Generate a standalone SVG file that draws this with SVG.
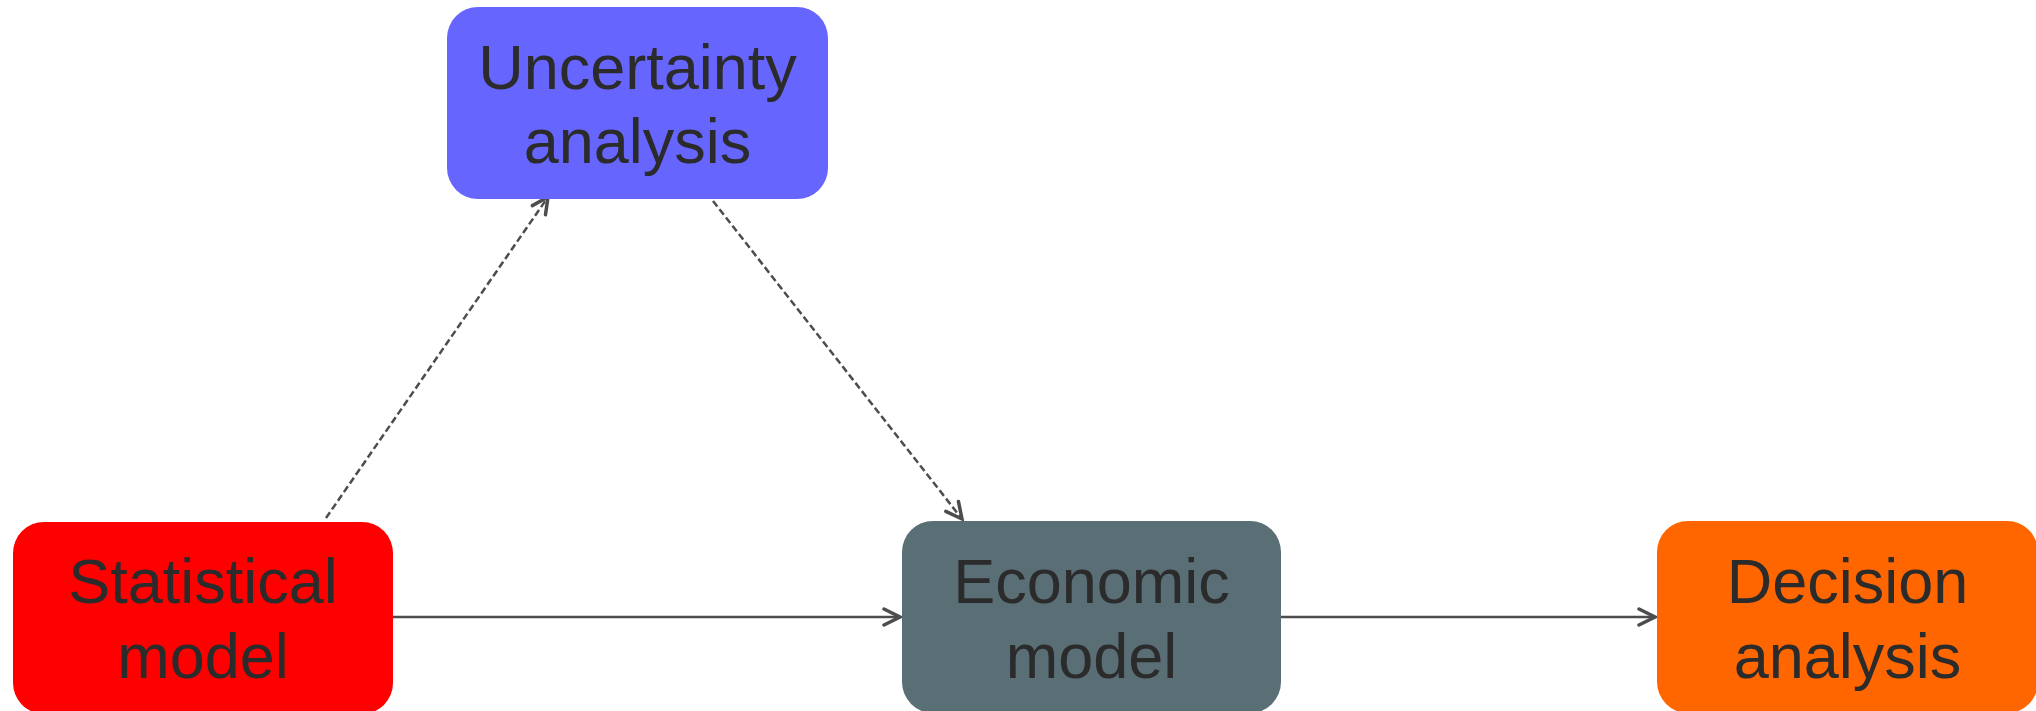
<svg xmlns="http://www.w3.org/2000/svg" width="2036" height="711" viewBox="0 0 2036 711">
<style>
.lbl{font-family:"Liberation Sans",Arial,sans-serif;font-size:63px;fill:#2b2b2b;text-anchor:middle}
.conn{stroke:#4d4d4d;stroke-width:2.5;fill:none}
.dash{stroke-dasharray:7 3.5}
</style>
<defs>
<marker id="arr" markerUnits="userSpaceOnUse" viewBox="-20 -11 23 22" refX="0" refY="0" markerWidth="23" markerHeight="22" orient="auto">
<path d="M-16,-8 L0,0 L-16,8" fill="none" stroke="#4d4d4d" stroke-width="3.5" stroke-linecap="round" stroke-linejoin="miter"/>
</marker>
</defs>
<g id="connectors">
<line class="conn" x1="393" y1="617" x2="900" y2="617" marker-end="url(#arr)"/>
<line class="conn" x1="1281" y1="617" x2="1655" y2="617" marker-end="url(#arr)"/>
<line class="conn dash" x1="326" y1="518" x2="548" y2="197" marker-end="url(#arr)"/>
<line class="conn dash" x1="713" y1="201" x2="962" y2="519" marker-end="url(#arr)"/>
</g>
<g id="uncertainty">
<rect x="447" y="7" width="381" height="192" rx="31" fill="#6666ff"/>
<text class="lbl" x="637.5" y="89">Uncertainty</text>
<text class="lbl" x="637.5" y="163">analysis</text>
</g>
<g id="statistical">
<rect x="13" y="522" width="380" height="192" rx="31" fill="#ff0000"/>
<text class="lbl" x="203" y="603">Statistical</text>
<text class="lbl" x="203" y="678">model</text>
</g>
<g id="economic">
<rect x="902" y="521" width="379" height="192" rx="31" fill="#5a6e75"/>
<text class="lbl" x="1091.5" y="603">Economic</text>
<text class="lbl" x="1091.5" y="678">model</text>
</g>
<g id="decision">
<rect x="1657" y="521" width="381" height="192" rx="31" fill="#ff6600"/>
<text class="lbl" x="1847.5" y="603">Decision</text>
<text class="lbl" x="1847.5" y="678">analysis</text>
</g>
</svg>
